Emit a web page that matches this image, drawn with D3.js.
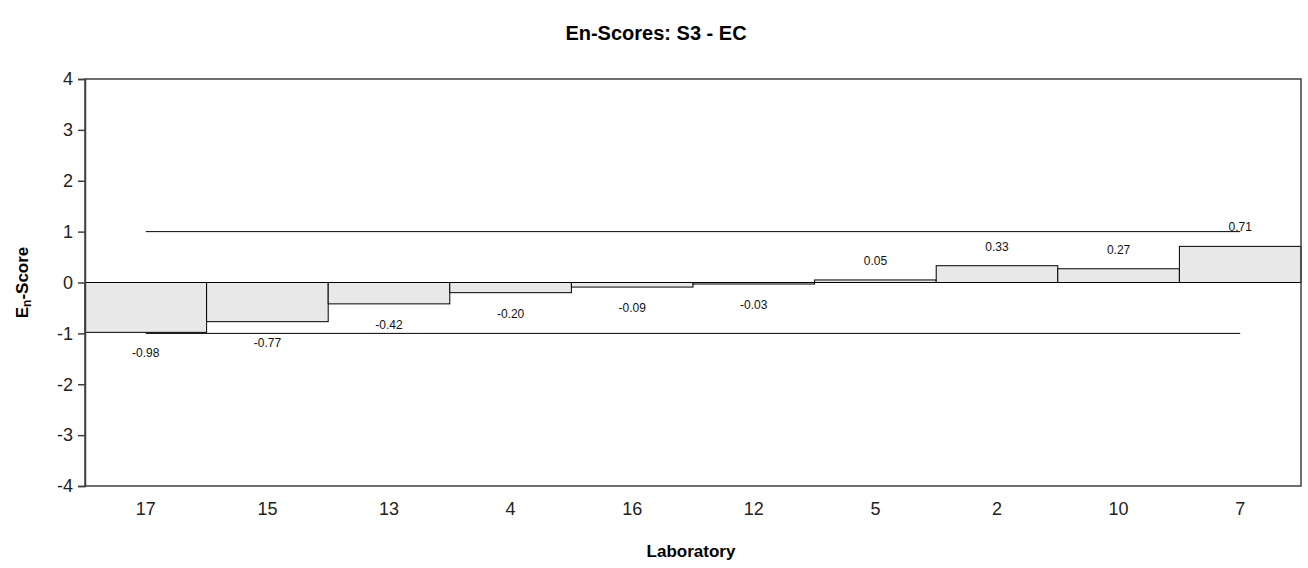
<!DOCTYPE html>
<html>
<head>
<meta charset="utf-8">
<script src="https://cdn.jsdelivr.net/npm/d3@7"></script>
<style>
  html, body { margin: 0; padding: 0; background: #fff; }
  svg { display: block; font-family: "Liberation Sans", Arial, sans-serif; }
</style>
</head>
<body>
<svg id="chart" width="1308" height="568"></svg>
<script>
const laboratories = ["17", "15", "13", "4", "16", "12", "5", "2", "10", "7"];
const enScores = [-0.98, -0.77, -0.42, -0.20, -0.09, -0.03, 0.05, 0.33, 0.27, 0.71];
const scoreLabels = ["-0.98", "-0.77", "-0.42", "-0.20", "-0.09", "-0.03", "0.05", "0.33", "0.27", "0.71"];
const yTicks = [-4, -3, -2, -1, 0, 1, 2, 3, 4];
const limits = [-1, 1];
const titleText = "En-Scores: S3 - EC";
const xTitle = "Laboratory";

const svg = d3.select("#chart");
const margin = { left: 85, right: 7, top: 79, bottom: 82 };
const W = 1308, H = 568;
const x = d3.scaleBand().domain(laboratories).range([margin.left, W - margin.right]).padding(0);
const y = d3.scaleLinear().domain([-4, 4]).range([H - margin.bottom, margin.top]);

const data = laboratories.map((lab, i) => ({ lab, v: enScores[i], t: scoreLabels[i] }));

// bars
svg.append("g").selectAll("rect").data(data).join("rect")
  .attr("x", d => x(d.lab))
  .attr("width", x.bandwidth())
  .attr("y", d => y(Math.max(0, d.v)))
  .attr("height", d => Math.abs(y(d.v) - y(0)))
  .attr("fill", "#e8e8e8")
  .attr("stroke", "#000")
  .attr("stroke-width", 1);

// zero line
svg.append("line")
  .attr("x1", x.range()[0]).attr("x2", x.range()[1])
  .attr("y1", y(0)).attr("y2", y(0))
  .attr("stroke", "#000").attr("stroke-width", 1);

// limit lines
const xFirst = x(laboratories[0]) + x.bandwidth() / 2;
const xLast = x(laboratories[laboratories.length - 1]) + x.bandwidth() / 2;
svg.append("g").selectAll("line").data(limits).join("line")
  .attr("x1", xFirst).attr("x2", xLast)
  .attr("y1", d => y(d)).attr("y2", d => y(d))
  .attr("stroke", "#000").attr("stroke-width", 1);

// value labels
svg.append("g").selectAll("text").data(data).join("text")
  .attr("x", d => x(d.lab) + x.bandwidth() / 2)
  .attr("y", d => d.v >= 0 ? y(d.v) - 19 : y(d.v) + 21)
  .attr("text-anchor", "middle")
  .attr("dominant-baseline", "central")
  .attr("font-size", 12)
  .attr("fill", "#111")
  .text(d => d.t);

// frame
svg.append("rect")
  .attr("x", margin.left).attr("y", margin.top)
  .attr("width", W - margin.left - margin.right)
  .attr("height", H - margin.top - margin.bottom)
  .attr("fill", "none").attr("stroke", "#404040").attr("stroke-width", 1.5);

// y axis
const yAxis = svg.append("g")
  .attr("transform", `translate(${margin.left},0)`)
  .call(d3.axisLeft(y).tickValues(yTicks).tickFormat(d => String(d)).tickSize(7).tickPadding(5));
yAxis.select(".domain").attr("stroke", "#404040").attr("stroke-width", 1.5);
yAxis.selectAll(".tick line").attr("stroke", "#404040").attr("stroke-width", 1.5);
yAxis.selectAll(".tick text").attr("font-size", 18).attr("fill", "#222")
  .attr("font-family", "'Liberation Sans', Arial, sans-serif");

// x axis (labels only)
const xAxis = svg.append("g")
  .attr("transform", `translate(0,${H - margin.bottom})`)
  .call(d3.axisBottom(x).tickSize(0).tickPadding(16));
xAxis.select(".domain").remove();
xAxis.selectAll(".tick text").attr("font-size", 18).attr("fill", "#222")
  .attr("font-family", "'Liberation Sans', Arial, sans-serif");

// title
svg.append("text")
  .attr("x", 656).attr("y", 33)
  .attr("text-anchor", "middle")
  .attr("dominant-baseline", "central")
  .attr("font-size", 20).attr("font-weight", "bold")
  .text(titleText);

// x title
svg.append("text")
  .attr("x", 691).attr("y", 551)
  .attr("text-anchor", "middle")
  .attr("dominant-baseline", "central")
  .attr("font-size", 17).attr("font-weight", "bold")
  .text(xTitle);

// y title with subscript
const yt = svg.append("text")
  .attr("transform", `translate(22,${y(0)}) rotate(-90)`)
  .attr("text-anchor", "middle")
  .attr("dominant-baseline", "central")
  .attr("font-size", 17).attr("font-weight", "bold");
yt.append("tspan").text("E");
yt.append("tspan").attr("dy", 5).attr("font-size", 12).text("n");
yt.append("tspan").attr("dy", -5).text("-Score");
</script>
</body>
</html>
